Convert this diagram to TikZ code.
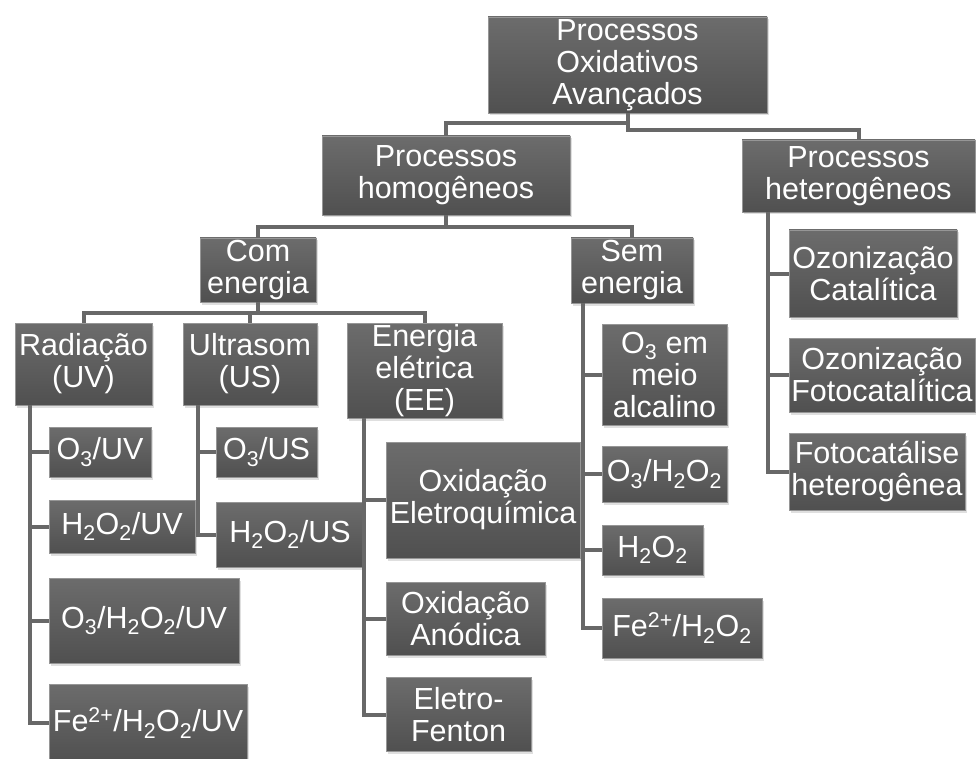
\documentclass[tikz,border=0pt]{standalone}
\usepackage{fontspec}
\setmainfont{Liberation Sans}
\usepackage{tikz}
\usetikzlibrary{shadows}
\usepackage{xcolor}
\definecolor{boxtop}{RGB}{108,108,108}
\definecolor{boxbot}{RGB}{80,80,80}
\definecolor{boxedge}{RGB}{150,150,150}
\definecolor{linegray}{RGB}{104,104,104}

\begin{document}
\begin{tikzpicture}[x=1pt, y=-1pt,
  proc/.style={rectangle, top color=boxtop, bottom color=boxbot, draw=boxedge,
    line width=0.8pt, text=white, align=center, inner sep=0pt,
    font=\fontsize{30.5}{32}\selectfont,
    drop shadow={opacity=0.25, shadow xshift=1.5pt, shadow yshift=-2.5pt}},
  conn/.style={draw=linegray, line width=4pt}]
  \useasboundingbox (0,0) rectangle (976,759);

  % top levels
  \node[proc, minimum width=279, minimum height=96] (root) at (627.5,65) {Processos\\Oxidativos\\Avançados};
  \node[proc, minimum width=248, minimum height=79] (homog) at (446,175.5) {Processos\\homogêneos};
  \node[proc, minimum width=233, minimum height=72] (hetero) at (858.5,176) {Processos\\heterogêneos};
  \node[proc, minimum width=116, minimum height=64] (com) at (258,270) {Com\\energia};
  \node[proc, minimum width=122, minimum height=65] (sem) at (632,270.5) {Sem\\energia};
  \node[proc, minimum width=137, minimum height=82] (rad) at (83.5,364) {Radiação\\(UV)};
  \node[proc, minimum width=134, minimum height=82] (ultra) at (250,364) {Ultrasom\\(US)};
  \node[proc, minimum width=155, minimum height=95] (ee) at (424.5,370.5) {Energia\\elétrica\\(EE)};

  % radiacao
  \node[proc, minimum width=102, minimum height=50] (o3uv) at (100,452) {O\textsubscript{3}/UV};
  \node[proc, minimum width=146, minimum height=53] (h2o2uv) at (122,526.5) {H\textsubscript{2}O\textsubscript{2}/UV};
  \node[proc, minimum width=190, minimum height=85] (o3h2o2uv) at (144,620.5) {O\textsubscript{3}/H\textsubscript{2}O\textsubscript{2}/UV};
  \node[proc, minimum width=198, minimum height=78] (feuv) at (148,723) {Fe\textsuperscript{2+}/H\textsubscript{2}O\textsubscript{2}/UV};

  % ultrasom
  \node[proc, minimum width=101, minimum height=50] (o3us) at (266.5,452) {O\textsubscript{3}/US};
  \node[proc, minimum width=148, minimum height=65] (h2o2us) at (290,534.5) {H\textsubscript{2}O\textsubscript{2}/US};

  % energia eletrica
  \node[proc, minimum width=194, minimum height=116] (eq) at (483,500) {Oxidação\\Eletroquímica};
  \node[proc, minimum width=159, minimum height=73] (anod) at (465.5,618.5) {Oxidação\\Anódica};
  \node[proc, minimum width=145, minimum height=74] (ef) at (458.5,714.5) {Eletro-\\Fenton};

  % sem energia
  \node[proc, minimum width=125, minimum height=101] (o3alc) at (664.5,374.5) {O\textsubscript{3} em\\meio\\alcalino};
  \node[proc, minimum width=125, minimum height=56] (o3h2o2) at (664.5,474) {O\textsubscript{3}/H\textsubscript{2}O\textsubscript{2}};
  \node[proc, minimum width=101, minimum height=50] (h2o2) at (652.5,550) {H\textsubscript{2}O\textsubscript{2}};
  \node[proc, minimum width=160, minimum height=60] (feh2o2) at (682,628) {Fe\textsuperscript{2+}/H\textsubscript{2}O\textsubscript{2}};

  % heterogeneos
  \node[proc, minimum width=168, minimum height=87] (ozcat) at (873,273.5) {Ozonização\\Catalítica};
  \node[proc, minimum width=186, minimum height=74] (ozfoto) at (882,375) {Ozonização\\Fotocatalítica};
  \node[proc, minimum width=176, minimum height=77] (fotohet) at (877,471.5) {Fotocatálise\\heterogênea};

  % connectors
  \draw[conn] (root.south) -- ++(0,10) -| (homog.north);
  \draw[conn] (root.south) -- ++(0,17) -| (hetero.north);
  \draw[conn] (homog.south) -- ++(0,12) -| (com.north);
  \draw[conn] (homog.south) -- ++(0,12) -| (sem.north);
  \foreach \c in {rad,ultra,ee}
    \draw[conn] (com.south) -- ++(0,11) -| (\c.north);
  \foreach \c in {o3uv,h2o2uv,o3h2o2uv,feuv}
    \draw[conn] (rad.south west) ++(15,0) |- (\c.west);
  \foreach \c in {o3us,h2o2us}
    \draw[conn] (ultra.south west) ++(15,0) |- (\c.west);
  \foreach \c in {eq,anod,ef}
    \draw[conn] (ee.south west) ++(17,0) |- (\c.west);
  \foreach \c in {o3alc,o3h2o2,h2o2,feh2o2}
    \draw[conn] (sem.south west) ++(12,0) |- (\c.west);
  \foreach \c in {ozcat,ozfoto,fotohet}
    \draw[conn] (hetero.south west) ++(26,0) |- (\c.west);
\end{tikzpicture}
\end{document}
